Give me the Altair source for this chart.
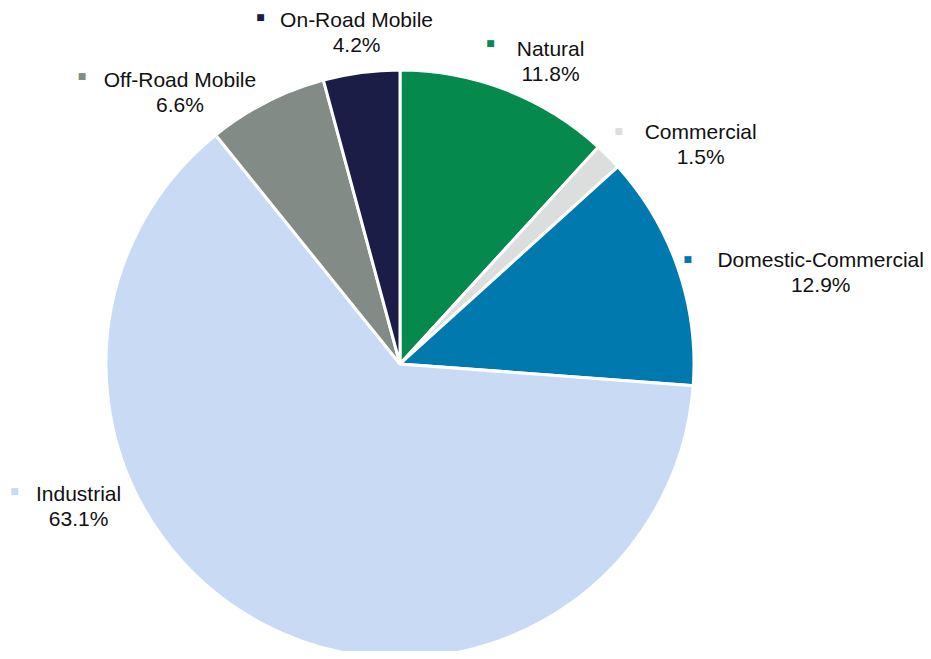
import altair as alt
import pandas as pd

# ---- data (clockwise from 12 o'clock) ----
categories = ["Natural", "Commercial", "Domestic-Commercial", "Industrial",
              "Off-Road Mobile", "On-Road Mobile"]
values = [11.8, 1.5, 12.9, 63.1, 6.6, 4.2]
colors = ["#06894D", "#DCDEDD", "#0079AE", "#C9DAF4", "#838B86", "#1B1D47"]

df = pd.DataFrame({
    "category": categories,
    "value": values,
    "order": list(range(len(categories))),
    "label": [f"{c}\n{v:.1f}%" for c, v in zip(categories, values)],
})

# ---- layout (pixels) ----
W, H = 915, 643
CX, CY, R = 392, 356, 294
ANCHOR_R = 300
LABEL_OFFSETS = {
    "Natural": (42, -34),
    "Commercial": (88, -19),
    "Domestic-Commercial": (137, -5),
    "Industrial": (-182, -135),
    "Off-Road Mobile": (-84, -16),
    "On-Road Mobile": (-4, -46),
}
MARKER_OFFSETS = {
    "Natural": (-18, -41),
    "Commercial": (6, -21),
    "Domestic-Commercial": (4, -7),
    "Industrial": (-246, -139),
    "Off-Road Mobile": (-182, -21),
    "On-Road Mobile": (-100, -50),
}

color_scale = alt.Scale(domain=categories, range=colors)

base = alt.Chart(df).encode(
    theta=alt.Theta("value:Q", stack=True),
    order=alt.Order("order:Q"),
    x=alt.value(CX),
    y=alt.value(CY),
)

pie = base.mark_arc(radius=R, stroke="white", strokeWidth=3).encode(
    color=alt.Color("category:N", scale=color_scale, legend=None)
)

layers = [pie]
for cat in categories:
    dx, dy = LABEL_OFFSETS[cat]
    layers.append(
        base.mark_text(radius=ANCHOR_R, dx=dx, dy=dy, align="center", baseline="middle",
                       lineBreak="\n", lineHeight=25, font="Liberation Sans",
                       fontSize=21, color="#111111").encode(
            text=alt.condition(alt.datum.category == cat, "label:N", alt.value(""))
        )
    )
    mx, my = MARKER_OFFSETS[cat]
    layers.append(
        base.mark_text(radius=ANCHOR_R, dx=mx, dy=my, align="center", baseline="middle",
                       font="DejaVu Sans", fontSize=9).encode(
            text=alt.condition(alt.datum.category == cat, alt.value("■"), alt.value("")),
            color=alt.Color("category:N", scale=color_scale, legend=None),
        )
    )

chart = alt.layer(*layers).properties(
    width=W, height=H, padding=0,
    autosize=alt.AutoSizeParams(type="none"),
).configure_view(stroke=None)

chart.save("out.html", embed_options={"renderer": "svg", "actions": False})
